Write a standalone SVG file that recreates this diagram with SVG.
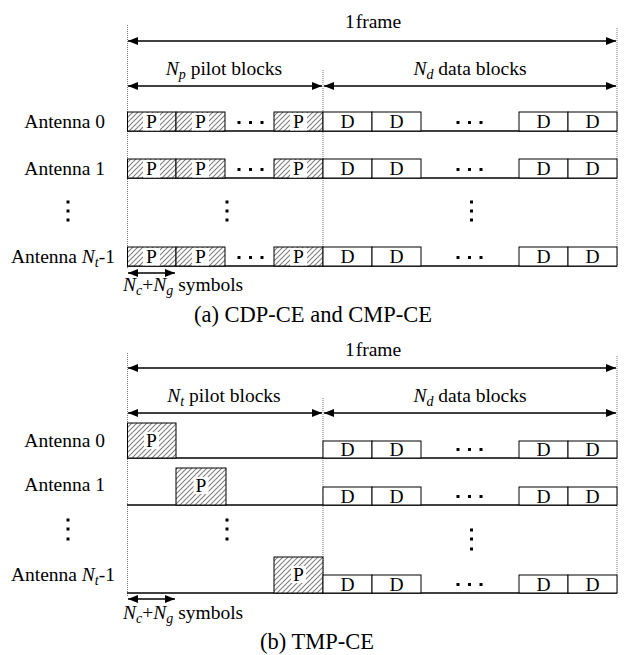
<svg xmlns="http://www.w3.org/2000/svg" width="624" height="655" viewBox="0 0 624 655">
<style>
text{font-family:"Liberation Serif","Times New Roman",serif;font-size:19.5px;fill:#000}
.c{text-anchor:middle}
.e{text-anchor:end}
.i{font-style:italic}
.s{font-style:italic;font-size:14px}
.cap{font-size:22.5px}
.dot{stroke:#777;stroke-width:1;stroke-dasharray:1,1;fill:none}
.ar{stroke:#000;stroke-width:1.3;fill:none;marker-start:url(#ah);marker-end:url(#ah)}
.base{stroke:#000;stroke-width:1.3;fill:none}
.pb{fill:url(#hatch);stroke:#000;stroke-width:1}
.db{fill:#fff;stroke:#000;stroke-width:1}
.wp{fill:#fff;stroke:none}
.sq{fill:#000}
</style>
<defs>
<pattern id="hatch" patternUnits="userSpaceOnUse" width="5" height="5">
<rect width="5" height="5" fill="#fff"/>
<path d="M-1,1 L1,-1 M0,5 L5,0 M4,6 L6,4" stroke="#808080" stroke-width="1.1"/>
</pattern>
<marker id="ah" markerUnits="userSpaceOnUse" markerWidth="12" markerHeight="10" refX="10" refY="4" orient="auto-start-reverse">
<path d="M0,0 L10,4 L0,8 Z" fill="#000"/>
</marker>
</defs>

<!-- ===== (a) ===== -->
<g id="guides-a">
<line class="dot" x1="127.5" y1="25" x2="127.5" y2="268"/>
<line class="dot" x1="323" y1="70" x2="323" y2="266"/>
<line class="dot" x1="617" y1="28" x2="617" y2="266"/>
</g>
<g id="connectors-a">
<line class="ar" x1="128" y1="41" x2="616" y2="41"/>
<line class="ar" x1="128" y1="86" x2="322" y2="86"/>
<line class="ar" x1="324" y1="86" x2="616" y2="86"/>
<line class="ar" x1="128" y1="273" x2="175" y2="273"/>
</g>
<g id="labels-a">
<text class="c" x="373" y="28">1<tspan dx="1">frame</tspan></text>
<text class="c" x="224" y="75"><tspan class="i">N</tspan><tspan class="s" dy="4">p</tspan><tspan dy="-4"> pilot blocks</tspan></text>
<text class="c" x="470" y="75"><tspan class="i">N</tspan><tspan class="s" dy="4">d</tspan><tspan dy="-4"> data blocks</tspan></text>
<text x="123" y="291"><tspan class="i">N</tspan><tspan class="s" dy="4">c</tspan><tspan dy="-4">+</tspan><tspan class="i">N</tspan><tspan class="s" dy="4">g</tspan><tspan dy="-4"> symbols</tspan></text>
<text class="cap" x="194" y="322">(a) CDP-CE and CMP-CE</text>
</g>

<g id="a-ant0">
<text class="e" x="105" y="128">Antenna 0</text>
<line class="base" x1="127" y1="131" x2="617" y2="131"/>
<rect class="pb" x="127.5" y="112" width="48.5" height="19"/>
<rect class="wp" x="143" y="113" width="17" height="17.5"/>
<text class="c" x="151.5" y="128">P</text>
<rect class="pb" x="176" y="112" width="49" height="19"/>
<rect class="wp" x="192" y="113" width="17" height="17.5"/>
<text class="c" x="200.5" y="128">P</text>
<rect class="sq" x="237.5" y="121" width="3" height="3"/><rect class="sq" x="249" y="121" width="3" height="3"/><rect class="sq" x="260.5" y="121" width="3" height="3"/>
<rect class="pb" x="274" y="112" width="49" height="19"/>
<rect class="wp" x="290" y="113" width="17" height="17.5"/>
<text class="c" x="298.5" y="128">P</text>
<rect class="db" x="323" y="112" width="49" height="19"/><text class="c" x="347.5" y="128">D</text>
<rect class="db" x="372" y="112" width="49" height="19"/><text class="c" x="396.5" y="128">D</text>
<rect class="sq" x="456.5" y="121" width="3" height="3"/><rect class="sq" x="468" y="121" width="3" height="3"/><rect class="sq" x="479.5" y="121" width="3" height="3"/>
<rect class="db" x="519" y="112" width="49" height="19"/><text class="c" x="543.5" y="128">D</text>
<rect class="db" x="568" y="112" width="49" height="19"/><text class="c" x="592.5" y="128">D</text>
</g>

<g id="a-ant1">
<text class="e" x="105" y="175">Antenna 1</text>
<line class="base" x1="127" y1="178" x2="617" y2="178"/>
<rect class="pb" x="127.5" y="159" width="48.5" height="19"/>
<rect class="wp" x="143" y="160" width="17" height="17.5"/>
<text class="c" x="151.5" y="175">P</text>
<rect class="pb" x="176" y="159" width="49" height="19"/>
<rect class="wp" x="192" y="160" width="17" height="17.5"/>
<text class="c" x="200.5" y="175">P</text>
<rect class="sq" x="237.5" y="168" width="3" height="3"/><rect class="sq" x="249" y="168" width="3" height="3"/><rect class="sq" x="260.5" y="168" width="3" height="3"/>
<rect class="pb" x="274" y="159" width="49" height="19"/>
<rect class="wp" x="290" y="160" width="17" height="17.5"/>
<text class="c" x="298.5" y="175">P</text>
<rect class="db" x="323" y="159" width="49" height="19"/><text class="c" x="347.5" y="175">D</text>
<rect class="db" x="372" y="159" width="49" height="19"/><text class="c" x="396.5" y="175">D</text>
<rect class="sq" x="456.5" y="168" width="3" height="3"/><rect class="sq" x="468" y="168" width="3" height="3"/><rect class="sq" x="479.5" y="168" width="3" height="3"/>
<rect class="db" x="519" y="159" width="49" height="19"/><text class="c" x="543.5" y="175">D</text>
<rect class="db" x="568" y="159" width="49" height="19"/><text class="c" x="592.5" y="175">D</text>
</g>

<g id="a-vdots">
<rect class="sq" x="66.5" y="200.5" width="3" height="3"/><rect class="sq" x="66.5" y="209.5" width="3" height="3"/><rect class="sq" x="66.5" y="218.5" width="3" height="3"/>
<rect class="sq" x="225.5" y="200.5" width="3" height="3"/><rect class="sq" x="225.5" y="209.5" width="3" height="3"/><rect class="sq" x="225.5" y="218.5" width="3" height="3"/>
<rect class="sq" x="470" y="200.5" width="3" height="3"/><rect class="sq" x="470" y="209.5" width="3" height="3"/><rect class="sq" x="470" y="218.5" width="3" height="3"/>
</g>

<g id="a-antN">
<text class="e" x="115" y="263">Antenna <tspan class="i">N</tspan><tspan class="s" dy="4">t</tspan><tspan dy="-4">-1</tspan></text>
<line class="base" x1="127" y1="266" x2="617" y2="266"/>
<rect class="pb" x="127.5" y="247" width="48.5" height="19"/>
<rect class="wp" x="143" y="248" width="17" height="17.5"/>
<text class="c" x="151.5" y="263">P</text>
<rect class="pb" x="176" y="247" width="49" height="19"/>
<rect class="wp" x="192" y="248" width="17" height="17.5"/>
<text class="c" x="200.5" y="263">P</text>
<rect class="sq" x="237.5" y="256" width="3" height="3"/><rect class="sq" x="249" y="256" width="3" height="3"/><rect class="sq" x="260.5" y="256" width="3" height="3"/>
<rect class="pb" x="274" y="247" width="49" height="19"/>
<rect class="wp" x="290" y="248" width="17" height="17.5"/>
<text class="c" x="298.5" y="263">P</text>
<rect class="db" x="323" y="247" width="49" height="19"/><text class="c" x="347.5" y="263">D</text>
<rect class="db" x="372" y="247" width="49" height="19"/><text class="c" x="396.5" y="263">D</text>
<rect class="sq" x="456.5" y="256" width="3" height="3"/><rect class="sq" x="468" y="256" width="3" height="3"/><rect class="sq" x="479.5" y="256" width="3" height="3"/>
<rect class="db" x="519" y="247" width="49" height="19"/><text class="c" x="543.5" y="263">D</text>
<rect class="db" x="568" y="247" width="49" height="19"/><text class="c" x="592.5" y="263">D</text>
</g>

<!-- ===== (b) ===== -->
<g id="guides-b">
<line class="dot" x1="127.5" y1="353" x2="127.5" y2="596"/>
<line class="dot" x1="323" y1="398" x2="323" y2="593"/>
<line class="dot" x1="617" y1="356" x2="617" y2="593"/>
</g>
<g id="connectors-b">
<line class="ar" x1="128" y1="368" x2="616" y2="368"/>
<line class="ar" x1="128" y1="413" x2="322" y2="413"/>
<line class="ar" x1="324" y1="413" x2="616" y2="413"/>
<line class="ar" x1="128" y1="599" x2="175" y2="599"/>
</g>
<g id="labels-b">
<text class="c" x="373" y="356">1<tspan dx="1">frame</tspan></text>
<text class="c" x="224" y="402"><tspan class="i">N</tspan><tspan class="s" dy="4">t</tspan><tspan dy="-4"> pilot blocks</tspan></text>
<text class="c" x="470" y="402"><tspan class="i">N</tspan><tspan class="s" dy="4">d</tspan><tspan dy="-4"> data blocks</tspan></text>
<text x="123" y="619"><tspan class="i">N</tspan><tspan class="s" dy="4">c</tspan><tspan dy="-4">+</tspan><tspan class="i">N</tspan><tspan class="s" dy="4">g</tspan><tspan dy="-4"> symbols</tspan></text>
<text class="cap" x="260" y="649">(b) TMP-CE</text>
</g>

<g id="b-ant0">
<text class="e" x="105" y="447">Antenna 0</text>
<line class="base" x1="127" y1="458" x2="617" y2="458"/>
<rect class="pb" x="127.5" y="423" width="48.5" height="35"/>
<rect class="wp" x="144" y="432" width="15" height="17"/>
<text class="c" x="151.5" y="447">P</text>
<rect class="db" x="323" y="441" width="49" height="17"/><text class="c" x="347.5" y="456">D</text>
<rect class="db" x="372" y="441" width="49" height="17"/><text class="c" x="396.5" y="456">D</text>
<rect class="sq" x="456.5" y="448" width="3" height="3"/><rect class="sq" x="468" y="448" width="3" height="3"/><rect class="sq" x="479.5" y="448" width="3" height="3"/>
<rect class="db" x="519" y="441" width="49" height="17"/><text class="c" x="543.5" y="456">D</text>
<rect class="db" x="568" y="441" width="49" height="17"/><text class="c" x="592.5" y="456">D</text>
</g>

<g id="b-ant1">
<text class="e" x="105" y="491">Antenna 1</text>
<line class="base" x1="127" y1="505" x2="617" y2="505"/>
<rect class="pb" x="176" y="468" width="50" height="37"/>
<rect class="wp" x="193.5" y="477" width="15" height="17"/>
<text class="c" x="201" y="492">P</text>
<rect class="db" x="323" y="487" width="49" height="18"/><text class="c" x="347.5" y="503">D</text>
<rect class="db" x="372" y="487" width="49" height="18"/><text class="c" x="396.5" y="503">D</text>
<rect class="sq" x="456.5" y="495" width="3" height="3"/><rect class="sq" x="468" y="495" width="3" height="3"/><rect class="sq" x="479.5" y="495" width="3" height="3"/>
<rect class="db" x="519" y="487" width="49" height="18"/><text class="c" x="543.5" y="503">D</text>
<rect class="db" x="568" y="487" width="49" height="18"/><text class="c" x="592.5" y="503">D</text>
</g>

<g id="b-vdots">
<rect class="sq" x="66.5" y="518.5" width="3" height="3"/><rect class="sq" x="66.5" y="527.5" width="3" height="3"/><rect class="sq" x="66.5" y="537.5" width="3" height="3"/>
<rect class="sq" x="225.5" y="518.5" width="3" height="3"/><rect class="sq" x="225.5" y="527.5" width="3" height="3"/><rect class="sq" x="225.5" y="537.5" width="3" height="3"/>
<rect class="sq" x="470" y="528.5" width="3" height="3"/><rect class="sq" x="470" y="537.5" width="3" height="3"/><rect class="sq" x="470" y="547.5" width="3" height="3"/>
</g>

<g id="b-antN">
<text class="e" x="115" y="581">Antenna <tspan class="i">N</tspan><tspan class="s" dy="4">t</tspan><tspan dy="-4">-1</tspan></text>
<line class="base" x1="127" y1="593" x2="617" y2="593"/>
<rect class="pb" x="274" y="557" width="49" height="36"/>
<rect class="wp" x="291" y="566" width="15" height="17"/>
<text class="c" x="298.5" y="581">P</text>
<rect class="db" x="323" y="575" width="49" height="18"/><text class="c" x="347.5" y="591">D</text>
<rect class="db" x="372" y="575" width="49" height="18"/><text class="c" x="396.5" y="591">D</text>
<rect class="sq" x="456.5" y="583" width="3" height="3"/><rect class="sq" x="468" y="583" width="3" height="3"/><rect class="sq" x="479.5" y="583" width="3" height="3"/>
<rect class="db" x="519" y="575" width="49" height="18"/><text class="c" x="543.5" y="591">D</text>
<rect class="db" x="568" y="575" width="49" height="18"/><text class="c" x="592.5" y="591">D</text>
</g>
</svg>
